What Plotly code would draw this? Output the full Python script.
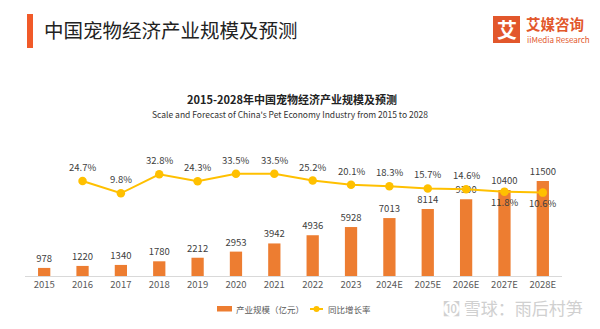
import plotly.graph_objects as go

years = ["2015", "2016", "2017", "2018", "2019", "2020", "2021", "2022",
         "2023", "2024E", "2025E", "2026E", "2027E", "2028E"]
scale = [978, 1220, 1340, 1780, 2212, 2953, 3942, 4936, 5928, 7013, 8114, 9300, 10400, 11500]
growth = [None, 24.7, 9.8, 32.8, 24.3, 33.5, 33.5, 25.2, 20.1, 18.3, 15.7, 14.6, 11.8, 10.6]
label_below = [False] * 12 + [True] * 2

FONT = "Noto Sans CJK SC, Microsoft YaHei, sans-serif"
ORANGE = "#ED7D31"
GOLD = "#FFC000"
TXT = "#404040"

W, H = 600, 329
ML, MR, MT, MB = 25, 38, 130, 53
PW, PH = W - ML - MR, H - MT - MB


def px(x):
    return (x - ML) / PW


def py(y):
    return (H - MB - y) / PH


fig = go.Figure()
fig.add_trace(go.Bar(
    x=years, y=scale, name="产业规模（亿元）",
    marker=dict(color=ORANGE, line=dict(width=0)),
    width=0.32,
    text=[str(v) for v in scale], textposition="outside",
    constraintext="none",
    textfont=dict(size=9.5, color=TXT, family=FONT),
    cliponaxis=False,
))
fig.add_trace(go.Scatter(
    x=years, y=growth, name="同比增长率", yaxis="y2",
    mode="lines+markers",
    line=dict(color=GOLD, width=2),
    marker=dict(color=GOLD, size=8.5),
    cliponaxis=False,
))

# Growth-rate labels (category index positions on the x axis)
for i, (g, below) in enumerate(zip(growth, label_below)):
    if g is None:
        continue
    fig.add_annotation(x=i, y=g, xref="x", yref="y2", showarrow=False,
                       text=f"{g}%", yshift=-10 if below else 14,
                       font=dict(size=9.5, color=TXT, family=FONT))

fig.update_layout(
    width=W, height=H,
    margin=dict(l=ML, r=MR, t=MT, b=MB),
    paper_bgcolor="white", plot_bgcolor="white",
    font=dict(family=FONT, color=TXT),
    showlegend=False,
    xaxis=dict(type="category", range=[-0.5, len(years) - 0.5],
               showgrid=False, showline=True, linecolor="#D9D9D9",
               linewidth=1, ticks="", tickfont=dict(size=9.5, color="#595959", family=FONT)),
    yaxis=dict(range=[0, 17674], visible=False, showgrid=False, zeroline=False),
    yaxis2=dict(range=[-90.2, 86.3], overlaying="y", side="right", visible=False,
                showgrid=False, zeroline=False),
)

# Header bar and title
fig.add_shape(type="rect", xref="paper", yref="paper",
              x0=px(27), x1=px(33), y0=py(48), y1=py(14),
              fillcolor="#F15A29", line=dict(width=0), layer="above")
fig.add_annotation(xref="paper", yref="paper", x=px(42), y=py(30),
                   xanchor="left", yanchor="middle", showarrow=False,
                   text="中国宠物经济产业规模及预测",
                   font=dict(size=19.5, color="#222222", family=FONT))

# Brand logo
fig.add_shape(type="rect", xref="paper", yref="paper",
              x0=px(493), x1=px(520), y0=py(43), y1=py(16),
              fillcolor="#E2572B", line=dict(width=0), layer="above")
fig.add_annotation(xref="paper", yref="paper", x=px(506.5), y=py(29.5),
                   xanchor="center", yanchor="middle", showarrow=False,
                   text="<b>艾</b>", font=dict(size=20, color="white", family=FONT))
fig.add_annotation(xref="paper", yref="paper", x=px(524), y=py(23),
                   xanchor="left", yanchor="middle", showarrow=False,
                   text="<b>艾媒咨询</b>", font=dict(size=14.5, color="#E2572B", family=FONT))
fig.add_annotation(xref="paper", yref="paper", x=px(525), y=py(39),
                   xanchor="left", yanchor="middle", showarrow=False,
                   text="iiMedia Research", font=dict(size=8, color="#E2572B", family=FONT))

# Chart titles
fig.add_annotation(xref="paper", yref="paper", x=px(292), y=py(99),
                   xanchor="center", yanchor="middle", showarrow=False,
                   text="<b>2015-2028年中国宠物经济产业规模及预测</b>",
                   font=dict(size=11, color="#222222", family=FONT))
fig.add_annotation(xref="paper", yref="paper", x=px(290), y=py(114),
                   xanchor="center", yanchor="middle", showarrow=False,
                   text="Scale and Forecast of China's Pet Economy Industry from 2015 to 2028",
                   font=dict(size=8.5, color="#333333", family=FONT))

# Legend
fig.add_shape(type="rect", xref="paper", yref="paper",
              x0=px(217), x1=px(232), y0=py(311.5), y1=py(306),
              fillcolor=ORANGE, line=dict(width=0))
fig.add_annotation(xref="paper", yref="paper", x=px(234), y=py(309),
                   xanchor="left", yanchor="middle", showarrow=False,
                   text="产业规模（亿元）", font=dict(size=8.5, color="#595959", family=FONT))
fig.add_shape(type="line", xref="paper", yref="paper",
              x0=px(310), x1=px(323), y0=py(309), y1=py(309),
              line=dict(color=GOLD, width=2))
fig.add_shape(type="circle", xref="paper", yref="paper",
              x0=px(313.5), x1=px(319.5), y0=py(312), y1=py(306),
              fillcolor=GOLD, line=dict(width=0))
fig.add_annotation(xref="paper", yref="paper", x=px(326), y=py(309),
                   xanchor="left", yanchor="middle", showarrow=False,
                   text="同比增长率", font=dict(size=8.5, color="#595959", family=FONT))

# Watermark
fig.add_annotation(xref="paper", yref="paper", x=px(441), y=py(307),
                   xanchor="left", yanchor="middle", showarrow=False,
                   text="㉈ 雪球：雨后村笋", font=dict(size=17, color="#D0D0D0", family=FONT))

fig.write_html("out.html")
